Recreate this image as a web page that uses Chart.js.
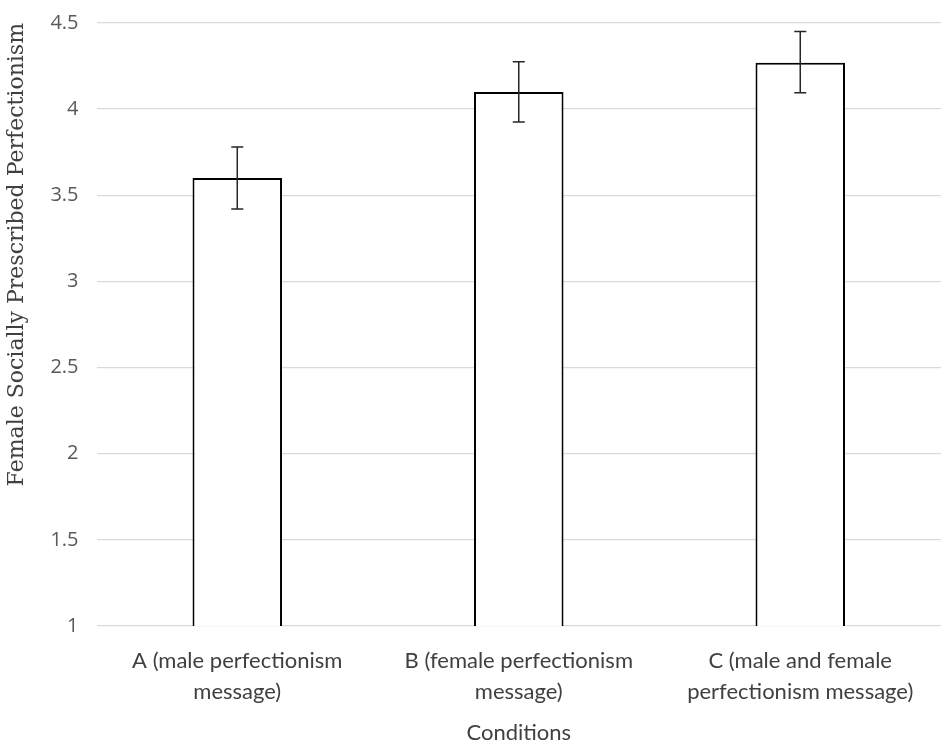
<!DOCTYPE html>
<html>
<head>
<meta charset="utf-8">
<script src="https://cdn.jsdelivr.net/npm/chart.js@4"></script>
<style>
  html, body { margin: 0; padding: 0; background: #fff; }
  #wrap { width: 949px; height: 746px; }
</style>
</head>
<body>
<div id="wrap"><canvas id="myChart"></canvas></div>
<script>
// data
var conditions = [
    ['A (male perfectionism', 'message)'],
    ['B (female perfectionism', 'message)'],
    ['C (male and female', 'perfectionism message)']
];
var means = [3.6, 4.1, 4.27];
var errPlus = [0.18, 0.175, 0.18];
var errMinus = [0.18, 0.175, 0.175];

// error bars drawn off the y scale
var errorBars = {
    id: 'errorBars',
    afterDatasetsDraw: function (chart) {
        var ctx = chart.ctx;
        var meta = chart.getDatasetMeta(0);
        var yScale = chart.scales.y;
        ctx.save();
        ctx.strokeStyle = '#262626';
        ctx.lineWidth = 1.5;
        for (var i = 0; i < means.length; i++) {
            var x = meta.data[i].x;
            var yTop = yScale.getPixelForValue(means[i] + errPlus[i]);
            var yBot = yScale.getPixelForValue(means[i] - errMinus[i]);
            ctx.beginPath();
            ctx.moveTo(x, yTop); ctx.lineTo(x, yBot);
            ctx.moveTo(x - 6, yTop); ctx.lineTo(x + 6, yTop);
            ctx.moveTo(x - 6, yBot); ctx.lineTo(x + 6, yBot);
            ctx.stroke();
        }
        ctx.restore();
    }
};

const ctx = document.getElementById('myChart').getContext('2d');
const chart = new Chart(ctx, {
    type: 'bar',
    data: {
        labels: conditions,
        datasets: [{
            data: means,
            backgroundColor: '#ffffff',
            borderColor: '#000000',
            borderWidth: 2,
            barPercentage: 0.318,
            categoryPercentage: 1
        }]
    },
    options: {
        responsive: true,
        maintainAspectRatio: false,
        animation: false,
        layout: { padding: { top: 9, right: 8, bottom: 0, left: 4 } },
        plugins: {
            legend: { display: false },
            tooltip: { enabled: false }
        },
        scales: {
            y: {
                min: 1,
                max: 4.5,
                ticks: {
                    stepSize: 0.5,
                    color: '#595959',
                    padding: 18,
                    font: { family: 'Open Sans', size: 20, lineHeight: 0.5 },
                    callback: function (v) { return String(v); }
                },
                grid: { color: '#d9d9d9', lineWidth: 1.3, drawTicks: false },
                border: { display: false },
                title: {
                    display: true,
                    text: 'Female Socially Prescribed Perfectionism',
                    align: 'end',
                    color: '#404040',
                    padding: { top: 0, bottom: 2 },
                    font: { family: 'DejaVu Serif', size: 22 }
                }
            },
            x: {
                ticks: {
                    color: '#404040',
                    padding: 12,
                    maxRotation: 0,
                    font: { family: 'Lato', size: 22, lineHeight: 1.4 }
                },
                grid: { display: false },
                border: { display: false },
                title: {
                    display: true,
                    text: 'Conditions',
                    color: '#404040',
                    padding: { top: 0, bottom: 0 },
                    font: { family: 'Lato', size: 22 }
                }
            }
        }
    },
    plugins: [errorBars]
});
</script>
</body>
</html>
